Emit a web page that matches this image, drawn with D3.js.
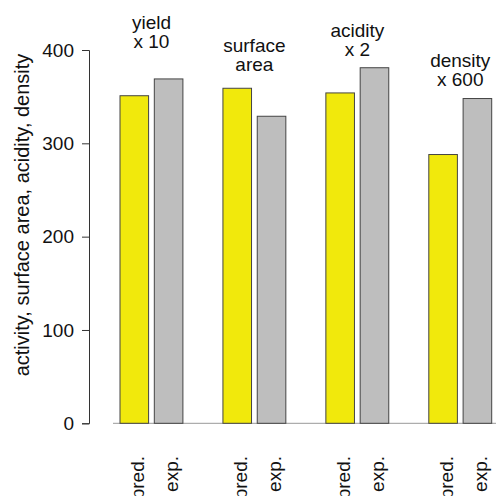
<!DOCTYPE html>
<html>
<head>
<meta charset="utf-8">
<script src="https://cdnjs.cloudflare.com/ajax/libs/d3/7.8.5/d3.min.js"></script>
<style>
  body { margin: 0; background: #fff; }
  text { font-family: "Liberation Sans", Arial, sans-serif; fill: #111; }
</style>
</head>
<body>
<div id="chart"></div>
<script>
// bar labels, values and which series each bar belongs to ("" = empty spacer bar)
var barLabels = ["pred.", "exp.", "", "pred.", "exp.", "", "pred.", "exp.", "", "pred.", "exp."];
var barValues = [351, 369, 0, 359, 329, 0, 354, 381, 0, 288, 348];
var barSeries = ["pred", "exp", "gap", "pred", "exp", "gap", "pred", "exp", "gap", "pred", "exp"];

// group annotations above the bars (first bar index of each group, text lines, y in data units)
var groupStart = [0, 3, 6, 9];
var groupLines = [["yield", "x 10"], ["surface", "area"], ["acidity", "x 2"], ["density", "x 600"]];
var groupLabelY = [423, 398, 414, 382];

var yTicks = [0, 100, 200, 300, 400];
var yTitle = "activity, surface area, acidity, density";

var width = 496, height = 496;
var fontSize = 19;

var svg = d3.select("#chart")
    .append("svg")
    .attr("width", width)
    .attr("height", height);

//Scales
var x = d3.scaleBand()
    .domain(d3.range(barValues.length))
    .range([120, 491.7])
    .paddingInner(0.2 / 1.2)
    .paddingOuter(0);

var y = d3.scaleLinear()
    .domain([0, 400])
    .range([423.3, 50]);

var color = { pred: "#f1e90c", exp: "#bebebe", gap: "#ffffff" };

//Zero line
svg.append("line")
    .attr("x1", 113)
    .attr("x2", width)
    .attr("y1", y(0))
    .attr("y2", y(0))
    .attr("stroke", "#999")
    .attr("stroke-width", 1);

//Bars
svg.append("g")
    .selectAll("rect")
    .data(barValues)
    .enter()
    .append("rect")
    .attr("x", function (d, i) { return x(i); })
    .attr("y", function (d) { return y(d); })
    .attr("width", x.bandwidth())
    .attr("height", function (d) { return y(0) - y(d); })
    .attr("fill", function (d, i) { return color[barSeries[i]]; })
    .attr("stroke", "#444")
    .attr("stroke-width", 1);

//Y axis
var yAxis = svg.append("g")
    .attr("transform", "translate(89,0)")
    .call(d3.axisLeft(y).tickValues(yTicks).tickSize(7).tickPadding(8));

yAxis.select(".domain").attr("stroke", "#333");
yAxis.selectAll(".tick line").attr("stroke", "#333");
yAxis.selectAll(".tick text")
    .attr("font-size", fontSize)
    .attr("font-family", "Liberation Sans, Arial, sans-serif")
    .attr("fill", "#111");

//Y title
svg.append("text")
    .attr("transform", "translate(28.5," + 215 + ") rotate(-90)")
    .attr("text-anchor", "middle")
    .attr("font-size", 20)
    .text(yTitle);

//Bar labels under the axis, rotated
svg.append("g")
    .selectAll("text")
    .data(barLabels)
    .enter()
    .append("text")
    .attr("transform", function (d, i) {
        return "translate(" + (x(i) + x.bandwidth() / 2) + ",456) rotate(-90)";
    })
    .attr("text-anchor", "end")
    .attr("dy", "0.5em")
    .attr("font-size", fontSize)
    .text(function (d) { return d; });

//Group labels above bars
groupStart.forEach(function (s, g) {
    var cx = (x(s) + x(s + 1) + x.bandwidth()) / 2;
    var t = svg.append("text")
        .attr("text-anchor", "middle")
        .attr("font-size", fontSize)
        .attr("x", cx)
        .attr("y", y(groupLabelY[g]));
    groupLines[g].forEach(function (line, k) {
        t.append("tspan")
            .attr("x", cx)
            .attr("dy", k === 0 ? 0 : 19)
            .text(line);
    });
});
</script>
</body>
</html>
